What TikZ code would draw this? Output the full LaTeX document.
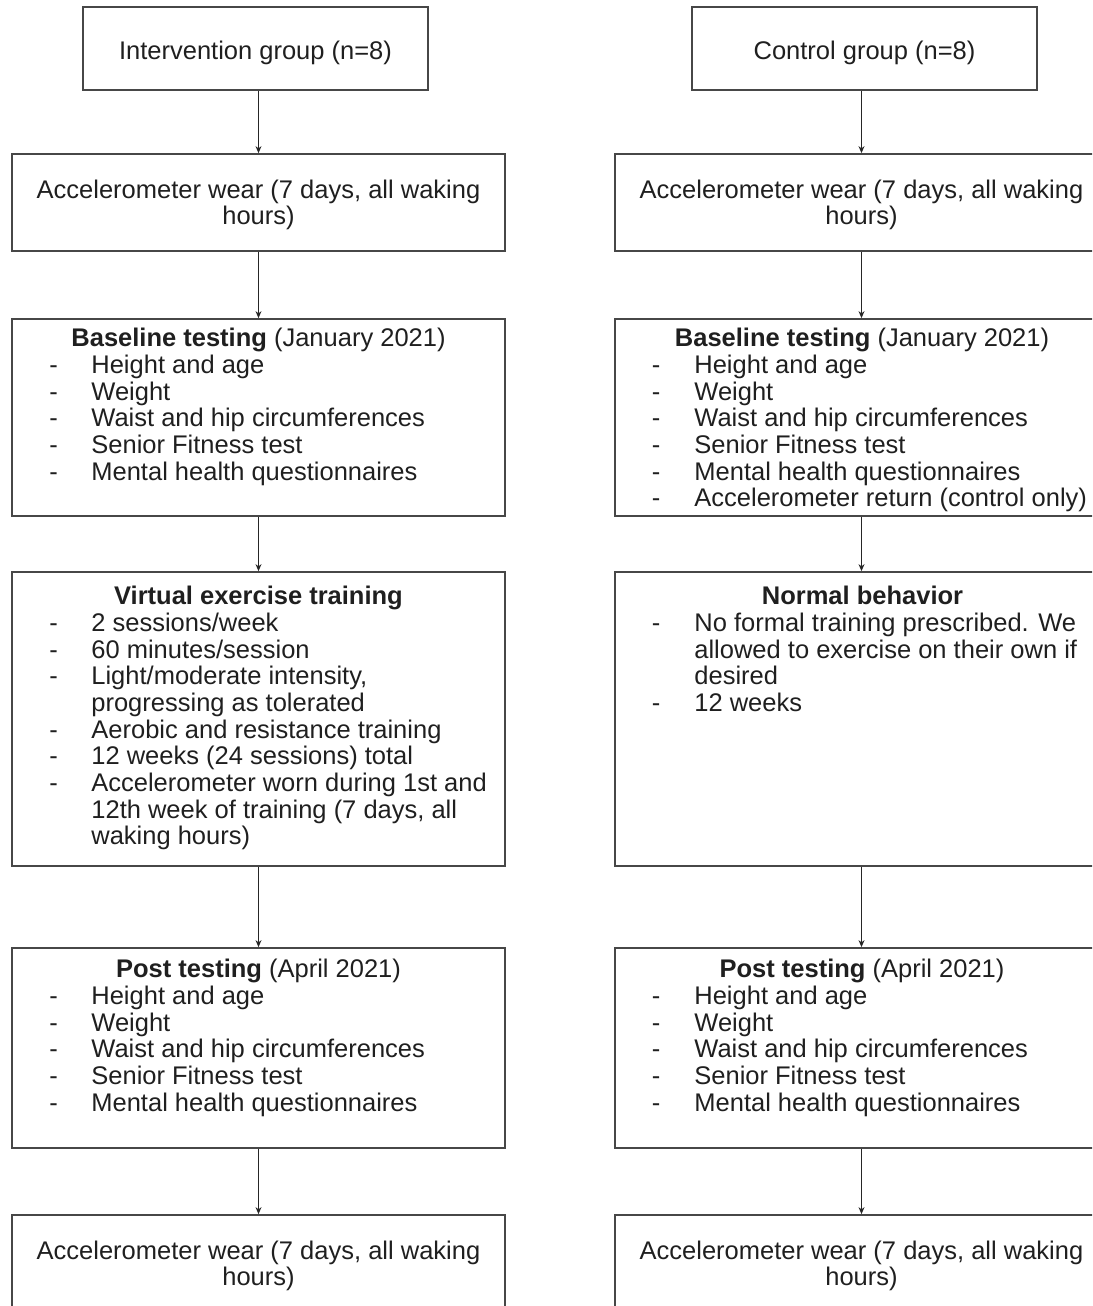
\documentclass[tikz,border=0pt]{standalone}
\usepackage{fontspec}
\setmainfont{Liberation Sans}
\usetikzlibrary{fit,arrows.meta}
\begin{document}
\begin{tikzpicture}[x=0.5pt,y=-0.5pt,
  box/.style={draw=black!72, line width=0.9pt, inner sep=0pt},
  txt/.style={inner sep=0pt, anchor=base west, text=black!88, font=\fontsize{12.75}{13}\selectfont},
  ctxt/.style={txt, anchor=base},
  conn/.style={draw=black!85, line width=0.5pt, -{Stealth[length=3.5pt,width=3pt]}}]
\useasboundingbox (0,0) rectangle (1092,1306);
\clip (0,0) rectangle (1092,1306);

% ---------------- left column ----------------
\node[box, fit={(83,7) (428,90)}] (L1) {};
\node[ctxt] (L1t) at (255.5,59) {Intervention group (n=8)};

\node[box, fit={(12,154) (505,251)}] (L2) {};
\node[ctxt] (L2a) at (258.5,198) {Accelerometer wear (7 days, all waking};
\node[ctxt] (L2b) at (258.5,224) {hours)};

\node[box, fit={(12,319) (505,516)}] (L3) {};
\node[ctxt] (L3t) at (258.5,346) {\textbf{Baseline testing} (January 2021)};
\node[ctxt] (L3d1) at (53.5,373) {-}; \node[txt] (L3i1) at (91,373) {Height and age};
\node[ctxt] (L3d2) at (53.5,400) {-}; \node[txt] (L3i2) at (91,400) {Weight};
\node[ctxt] (L3d3) at (53.5,426) {-}; \node[txt] (L3i3) at (91,426) {Waist and hip circumferences};
\node[ctxt] (L3d4) at (53.5,453) {-}; \node[txt] (L3i4) at (91,453) {Senior Fitness test};
\node[ctxt] (L3d5) at (53.5,480) {-}; \node[txt] (L3i5) at (91,480) {Mental health questionnaires};

\node[box, fit={(12,572) (505,866)}] (L4) {};
\node[ctxt] (L4t) at (258.5,604) {\textbf{Virtual exercise training}};
\node[ctxt] (L4d1) at (53.5,631) {-}; \node[txt] (L4i1) at (91,631) {2 sessions/week};
\node[ctxt] (L4d2) at (53.5,658) {-}; \node[txt] (L4i2) at (91,658) {60 minutes/session};
\node[ctxt] (L4d3) at (53.5,684) {-}; \node[txt] (L4i3) at (91,684) {Light/moderate intensity,};
\node[txt] (L4i3b) at (91,711) {progressing as tolerated};
\node[ctxt] (L4d4) at (53.5,738) {-}; \node[txt] (L4i4) at (91,738) {Aerobic and resistance training};
\node[ctxt] (L4d5) at (53.5,764) {-}; \node[txt] (L4i5) at (91,764) {12 weeks (24 sessions) total};
\node[ctxt] (L4d6) at (53.5,791) {-}; \node[txt] (L4i6) at (91,791) {Accelerometer worn during 1st and};
\node[txt] (L4i6b) at (91,818) {12th week of training (7 days, all};
\node[txt] (L4i6c) at (91,844) {waking hours)};

\node[box, fit={(12,948) (505,1148)}] (L5) {};
\node[ctxt] (L5t) at (258.5,977) {\textbf{Post testing} (April 2021)};
\node[ctxt] (L5d1) at (53.5,1004) {-}; \node[txt] (L5i1) at (91,1004) {Height and age};
\node[ctxt] (L5d2) at (53.5,1031) {-}; \node[txt] (L5i2) at (91,1031) {Weight};
\node[ctxt] (L5d3) at (53.5,1057) {-}; \node[txt] (L5i3) at (91,1057) {Waist and hip circumferences};
\node[ctxt] (L5d4) at (53.5,1084) {-}; \node[txt] (L5i4) at (91,1084) {Senior Fitness test};
\node[ctxt] (L5d5) at (53.5,1111) {-}; \node[txt] (L5i5) at (91,1111) {Mental health questionnaires};

\node[box, fit={(12,1215) (505,1340)}] (L6) {};
\node[ctxt] (L6a) at (258.5,1259) {Accelerometer wear (7 days, all waking};
\node[ctxt] (L6b) at (258.5,1285) {hours)};

% ---------------- right column ----------------
\node[box, fit={(692,7) (1037,90)}] (R1) {};
\node[ctxt] (R1t) at (864.5,59) {Control group (n=8)};

\node[box, fit={(615,154) (1108,251)}] (R2) {};
\node[ctxt] (R2a) at (861.5,198) {Accelerometer wear (7 days, all waking};
\node[ctxt] (R2b) at (861.5,224) {hours)};

\node[box, fit={(615,319) (1108,516)}] (R3) {};
\node[ctxt] (R3t) at (862,346) {\textbf{Baseline testing} (January 2021)};
\node[ctxt] (R3d1) at (656,373) {-}; \node[txt] (R3i1) at (694,373) {Height and age};
\node[ctxt] (R3d2) at (656,400) {-}; \node[txt] (R3i2) at (694,400) {Weight};
\node[ctxt] (R3d3) at (656,426) {-}; \node[txt] (R3i3) at (694,426) {Waist and hip circumferences};
\node[ctxt] (R3d4) at (656,453) {-}; \node[txt] (R3i4) at (694,453) {Senior Fitness test};
\node[ctxt] (R3d5) at (656,480) {-}; \node[txt] (R3i5) at (694,480) {Mental health questionnaires};
\node[ctxt] (R3d6) at (656,506) {-}; \node[txt] (R3i6) at (694,506) {Accelerometer return (control only)};

\node[box, fit={(615,572) (1108,866)}] (R4) {};
\node[ctxt] (R4t) at (862.5,604) {\textbf{Normal behavior}};
\node[ctxt] (R4d1) at (656,631) {-}; \node[txt] (R4i1) at (694,631) {No formal training prescribed. We};
\node[txt] (R4i1b) at (694,658) {allowed to exercise on their own if};
\node[txt] (R4i1c) at (694,684) {desired};
\node[ctxt] (R4d2) at (656,711) {-}; \node[txt] (R4i2) at (694,711) {12 weeks};

\node[box, fit={(615,948) (1108,1148)}] (R5) {};
\node[ctxt] (R5t) at (862,977) {\textbf{Post testing} (April 2021)};
\node[ctxt] (R5d1) at (656,1004) {-}; \node[txt] (R5i1) at (694,1004) {Height and age};
\node[ctxt] (R5d2) at (656,1031) {-}; \node[txt] (R5i2) at (694,1031) {Weight};
\node[ctxt] (R5d3) at (656,1057) {-}; \node[txt] (R5i3) at (694,1057) {Waist and hip circumferences};
\node[ctxt] (R5d4) at (656,1084) {-}; \node[txt] (R5i4) at (694,1084) {Senior Fitness test};
\node[ctxt] (R5d5) at (656,1111) {-}; \node[txt] (R5i5) at (694,1111) {Mental health questionnaires};

\node[box, fit={(615,1215) (1108,1340)}] (R6) {};
\node[ctxt] (R6a) at (861.5,1259) {Accelerometer wear (7 days, all waking};
\node[ctxt] (R6b) at (861.5,1285) {hours)};

% ---------------- connectors ----------------
\draw[conn] (L1.south -| L2.north) -- (L2.north);
\draw[conn] (L2.south) -- (L3.north);
\draw[conn] (L3.south) -- (L4.north);
\draw[conn] (L4.south) -- (L5.north);
\draw[conn] (L5.south) -- (L6.north);
\draw[conn] (R1.south -| R2.north) -- (R2.north);
\draw[conn] (R2.south) -- (R3.north);
\draw[conn] (R3.south) -- (R4.north);
\draw[conn] (R4.south) -- (R5.north);
\draw[conn] (R5.south) -- (R6.north);
\end{tikzpicture}
\end{document}
